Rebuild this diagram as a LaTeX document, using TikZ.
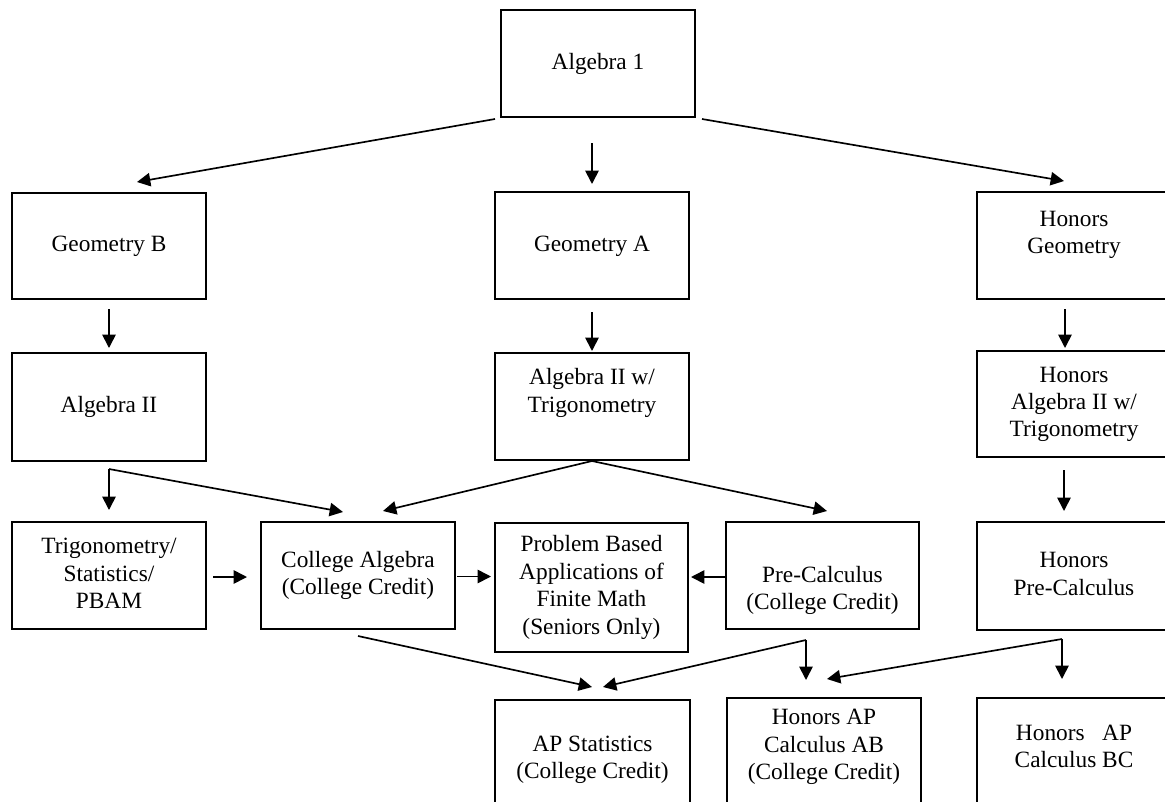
\documentclass[tikz,border=0pt]{standalone}
\usepackage{fontspec}
\setmainfont{Liberation Serif}
\usetikzlibrary{arrows.meta}
\newlength\pxu \setlength\pxu{0.75pt}
\newcommand\tb[2][0]{\raisebox{#1\pxu}[\height][\depth]{\begin{tabular}{@{}c@{}}#2\end{tabular}}}
\tikzset{
  box/.style={draw, line width=1.5pt, inner sep=0pt, minimum width=194\pxu, minimum height=107\pxu,
    font=\fontsize{17.5}{20.6}\selectfont},
  arr/.style={line width=1.25pt, -{Triangle[length=10pt,width=10pt]}}
}
\begin{document}
\begin{tikzpicture}[x=0.75pt,y=-0.75pt]
\useasboundingbox (0,0) rectangle (1165,801);
\fill[white] (0,0) rectangle (1165,801);
\clip (0,0) rectangle (1165,801);
% boxes
\node[box] (alg1) at (598,63.5) {\tb{Algebra 1}};
\node[box, minimum height=106\pxu] (geoB) at (109,246) {\tb{Geometry B}};
\node[box] (geoA) at (592,245.5) {\tb{Geometry A}};
\node[box] (hgeo) at (1074,245.5) {\tb[11]{Honors\\Geometry}};
\node[box, minimum height=108\pxu] (alg2) at (109,407) {\tb{Algebra II}};
\node[box] (alg2t) at (592,406.5) {\tb[13.5]{Algebra II w/\\Trigonometry}};
\node[box, minimum height=106\pxu] (halg2) at (1074,404) {\tb{Honors\\Algebra II w/\\Trigonometry}};
\node[box] (trig) at (109,575.5) {\tb{Trigonometry/\\Statistics/\\PBAM}};
\node[box] (colalg) at (358,575.5) {\tb{College Algebra\\(College Credit)}};
\node[box, minimum width=193\pxu, minimum height=129\pxu] (pbam) at (591.5,587.5) {\tb{Problem Based\\Applications of\\Finite Math\\(Seniors Only)}};
\node[box, minimum width=193\pxu] (precalc) at (822.5,575.5) {\tb[-15]{Pre-Calculus\\(College Credit)}};
\node[box, minimum height=108\pxu] (hprecalc) at (1074,576) {\tb{Honors\\Pre-Calculus}};
\node[box, minimum width=195\pxu] (apstat) at (592.5,753.5) {\tb[-6]{AP Statistics\\(College Credit)}};
\node[box] (apab) at (824,751.5) {\tb[5]{Honors AP\\Calculus AB\\(College Credit)}};
\node[box] (apbc) at (1074,751.5) {\tb[3]{Honors\ \ \ AP\\Calculus BC}};
% connectors
\draw[arr] ([shift={(-5,1)}]alg1.south west) -- ([shift={(28,-10)}]geoB.north);
\draw[arr] ([shift={(-6,25)}]alg1.south) -- ([shift={(0,-7)}]geoA.north);
\draw[arr] ([shift={(6,1)}]alg1.south east) -- ([shift={(88,-10)}]hgeo.north west);
\draw[arr] ([shift={(0,9)}]geoB.south) -- ([shift={(0,-4)}]alg2.north);
\draw[arr] ([shift={(0,12)}]geoA.south) -- ([shift={(0,-1)}]alg2t.north);
\draw[arr] ([shift={(-9,9)}]hgeo.south) -- ([shift={(-9,-2)}]halg2.north);
\coordinate (e1) at ([shift={(0,7)}]alg2.south);
\draw[arr] (e1) -- ([shift={(0,-11)}]trig.north);
\draw[arr] (e1) -- ([shift={(-15,-9)}]colalg.north);
\coordinate (e2) at (alg2t.south);
\draw[arr] (e2) -- ([shift={(25,-10)}]colalg.north);
\draw[arr] (e2) -- ([shift={(4.5,-10)}]precalc.north);
\draw[arr] ([shift={(-10,12)}]halg2.south) -- ([shift={(-10,-10)}]hprecalc.north);
\draw[arr] ([shift={(6,1.5)}]trig.east) -- ([shift={(-13,1.5)}]colalg.west);
\draw[arr] ([shift={(1,1)}]colalg.east) -- ([shift={(-3,-11)}]pbam.west);
\draw[arr] ([shift={(0,1.5)}]precalc.west) -- ([shift={(2,-10.5)}]pbam.east);
\draw[arr] ([shift={(0,6)}]colalg.south) -- ([shift={(-0.5,-12)}]apstat.north);
\coordinate (e3) at ([shift={(-16.5,10)}]precalc.south);
\draw[arr] (e3) -- ([shift={(-18,-17)}]apab.north);
\draw[arr] (e3) -- ([shift={(10.5,-12)}]apstat.north);
\coordinate (e4) at ([shift={(-12,8)}]hprecalc.south);
\draw[arr] (e4) -- ([shift={(-12,-18)}]apbc.north);
\draw[arr] (e4) -- ([shift={(3,-18)}]apab.north);
\end{tikzpicture}
\end{document}
